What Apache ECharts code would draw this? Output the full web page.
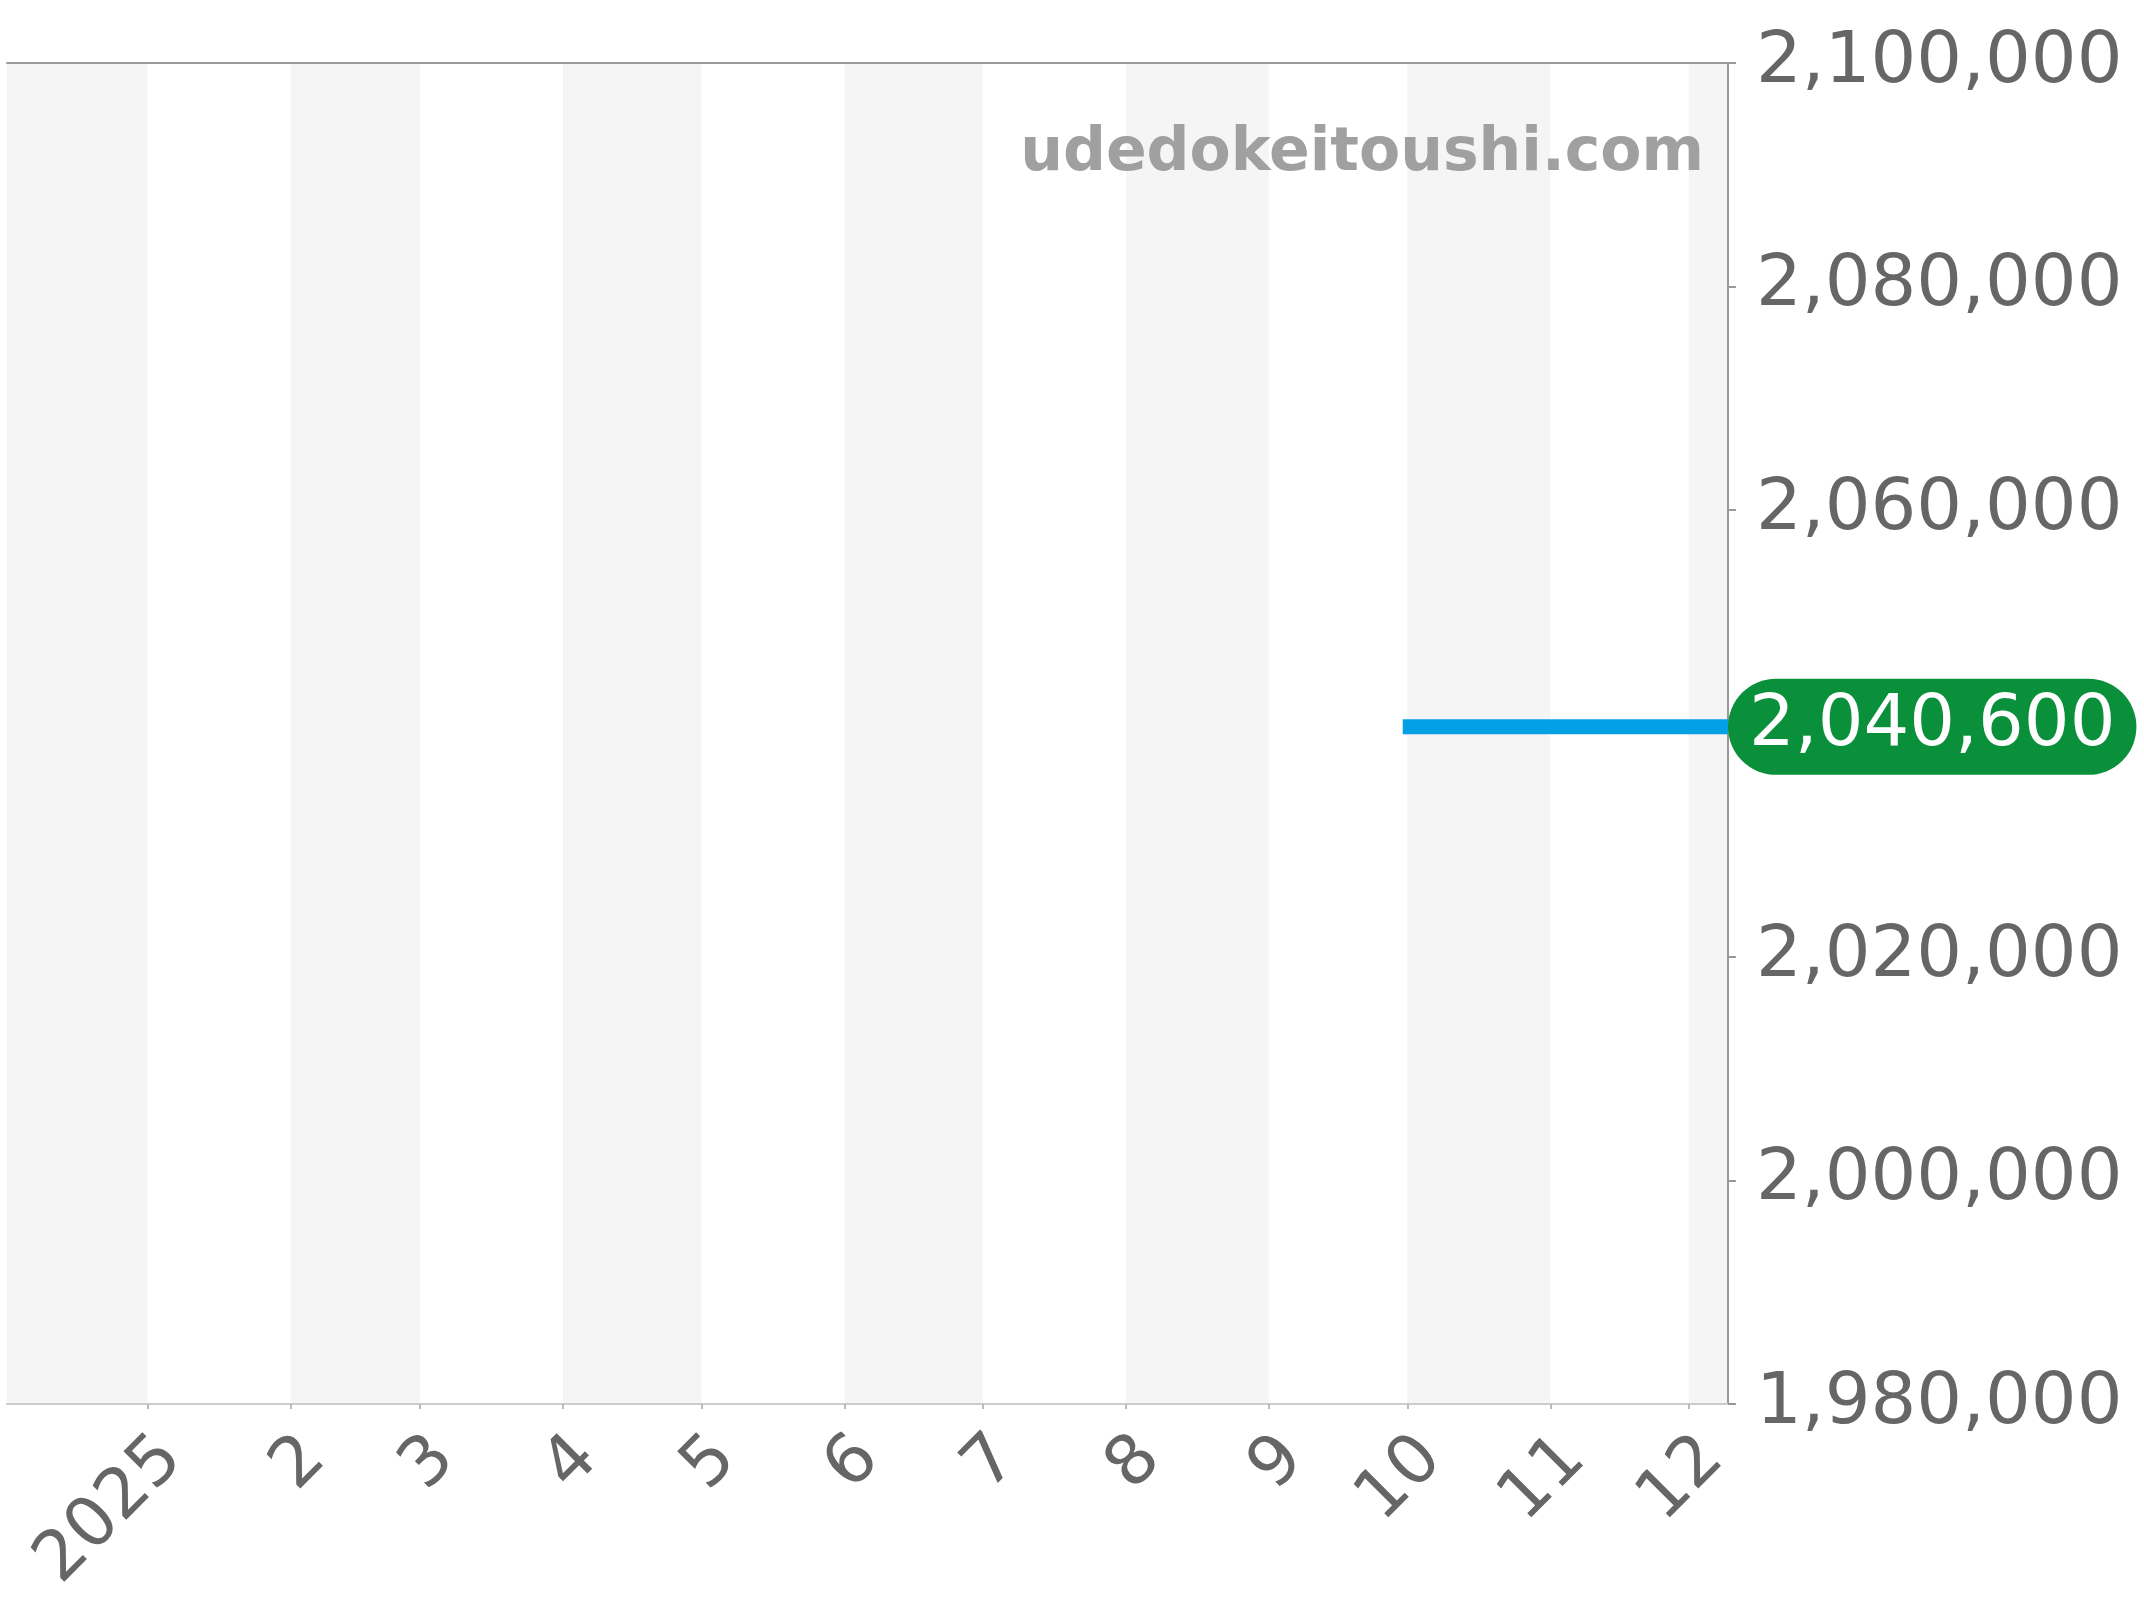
<!DOCTYPE html>
<html>
<head>
<meta charset="utf-8">
<script src="https://cdn.jsdelivr.net/npm/echarts@6/dist/echarts.min.js"></script>
<style>
  html, body { margin: 0; padding: 0; background: #fff; }
  #chart { width: 2144px; height: 1600px; }
</style>
</head>
<body>
<div id="chart"></div>
<script>
// price history (only one price since end of Sep)
const dates = ['2025-09-30', '2025-12-09 12:00'];
const prices = [2040600, 2040600];

// x axis range and month tick labels
const axisStart = '2024-12-01 12:00';
const axisEnd = '2025-12-09 12:00';
const monthLabels = ['2025', '2', '3', '4', '5', '6', '7', '8', '9', '10', '11', '12'];

// y axis range
const yMin = 1980000;
const yMax = 2100000;
const yStep = 20000;

const font = 'DejaVu Sans';
const fmt = v => Number(v).toLocaleString('en-US');

const myChart = echarts.init(document.getElementById('chart'));

const options = {
  animation: false,
  grid: {
    left: 7,
    right: 416,
    top: 63,
    bottom: 196,
    containLabel: false,
    outerBoundsMode: 'none'
  },
  graphic: [
    {
      type: 'text',
      right: 440,
      top: 124,
      style: {
        text: 'udedokeitoushi.com',
        fill: '#a0a0a0',
        font: 'bold 60px "DejaVu Sans"'
      },
      z: 100
    }
  ],
  xAxis: [
    {
      type: 'time',
      min: axisStart,
      max: axisEnd,
      splitNumber: 12,
      axisLine: { lineStyle: { color: '#cccccc', width: 2 } },
      axisTick: { show: true, length: 5, lineStyle: { color: '#bbbbbb', width: 2 } },
      axisLabel: {
        rotate: 45,
        interval: 0,
        margin: 20,
        verticalAlign: 'top',
        color: '#666666',
        fontSize: 69,
        fontFamily: font,
        formatter: function (value) {
          const d = new Date(value);
          if (d.getDate() !== 1 || d.getHours() !== 0) return '';
          return monthLabels[d.getMonth()];
        }
      },
      splitLine: { show: false },
      splitArea: {
        show: true,
        areaStyle: { color: ['#f5f5f5', '#ffffff'] }
      }
    },
    {
      type: 'time',
      position: 'top',
      min: axisStart,
      max: axisEnd,
      axisLine: { lineStyle: { color: '#999999', width: 2 } },
      axisTick: { show: false },
      axisLabel: { show: false },
      splitLine: { show: false }
    }
  ],
  yAxis: {
    type: 'value',
    position: 'right',
    min: yMin,
    max: yMax,
    interval: yStep,
    axisLine: { show: true, lineStyle: { color: '#999999', width: 2 } },
    axisTick: { show: true, length: 8, lineStyle: { color: '#999999', width: 2 } },
    axisLabel: {
      margin: 28,
      color: '#666666',
      fontSize: 72,
      fontFamily: font,
      formatter: fmt
    },
    splitLine: { lineStyle: { color: '#eeeeee', width: 1 } }
  },
  series: [
    {
      type: 'line',
      data: dates.map((d, i) => [d, prices[i]]),
      showSymbol: false,
      symbol: 'none',
      lineStyle: { color: '#04a0e6', width: 15 },
      endLabel: {
        show: true,
        distance: 0,
        formatter: p => fmt(p.value[1]),
        color: '#ffffff',
        fontSize: 72,
        fontFamily: font,
        backgroundColor: '#0a8f3b',
        borderRadius: 48,
        padding: [12, 21]
      }
    }
  ]
};

myChart.setOption(options);
</script>
</body>
</html>
